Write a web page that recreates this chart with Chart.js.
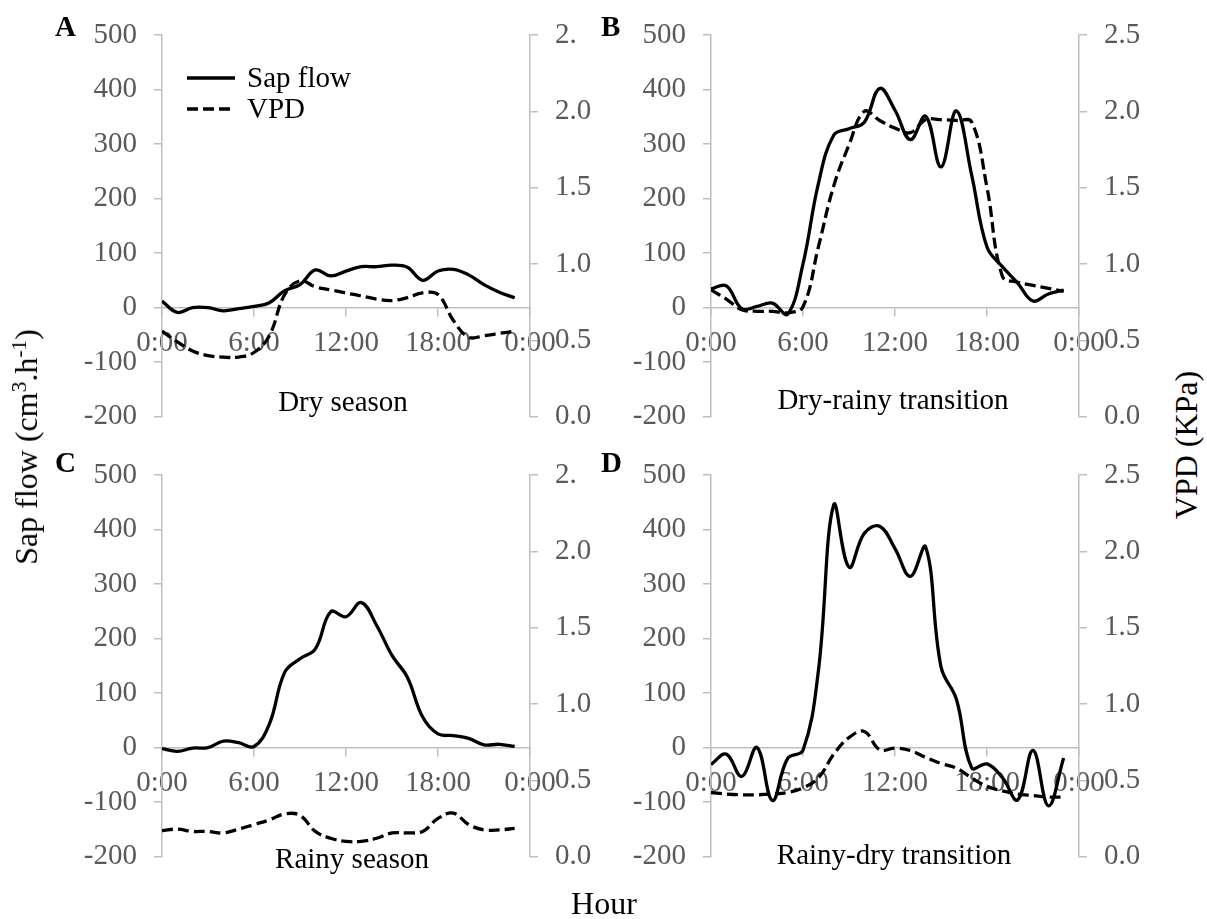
<!DOCTYPE html>
<html><head><meta charset="utf-8">
<script src="https://cdn.jsdelivr.net/npm/chart.js@4.4.1/dist/chart.umd.min.js"></script>
<style>
html,body{margin:0;padding:0;background:#fff;}
body{width:1207px;height:919px;position:relative;overflow:hidden;font-family:"Liberation Serif","Times New Roman",serif;}
canvas{position:absolute;}
.t{position:absolute;white-space:nowrap;color:#000;line-height:1;transform:translate(-50%,-50%);}
.lt{position:absolute;white-space:nowrap;color:#000;line-height:1;font-weight:bold;font-size:29px;}
.sup{font-size:0.67em;vertical-align:0.5em;line-height:0;}
</style></head><body>
<canvas id="cA" width="560" height="451" style="left:40px;top:0px"></canvas>
<canvas id="cB" width="560" height="451" style="left:600px;top:0px"></canvas>
<canvas id="cC" width="560" height="451" style="left:40px;top:440px"></canvas>
<canvas id="cD" width="560" height="451" style="left:600px;top:440px"></canvas>

<div class="lt" style="left:55px;top:12px">A</div>
<div class="lt" style="left:601px;top:12px">B</div>
<div class="lt" style="left:55px;top:448px">C</div>
<div class="lt" style="left:601px;top:448px">D</div>

<div class="t" style="left:343px;top:401px;font-size:29px">Dry season</div>
<div class="t" style="left:893px;top:399px;font-size:29px">Dry-rainy transition</div>
<div class="t" style="left:352px;top:858px;font-size:29px">Rainy season</div>
<div class="t" style="left:894px;top:854px;font-size:29px">Rainy-dry transition</div>

<div class="t" style="left:26px;top:447px;font-size:32px;transform:translate(-50%,-50%) rotate(-90deg)">Sap flow (cm<span class="sup">3</span>.h<span class="sup">-1</span>)</div>
<div class="t" style="left:1186px;top:445px;font-size:32px;transform:translate(-50%,-50%) rotate(-90deg)">VPD (KPa)</div>
<div class="t" style="left:604px;top:903px;font-size:32px">Hour</div>

<script>
// ---- data (hourly, 0:00 .. 23:00) ----
const hours = [0,1,2,3,4,5,6,7,8,9,10,11,12,13,14,15,16,17,18,19,20,21,22,23];

const sapDry      = [12, -9, 0, 0, -6, -2, 2, 9, 31, 42, 69, 58, 67, 75, 75, 78, 74, 50, 67, 70, 60, 42, 28, 18];
const vpdDry      = [0.56, 0.49, 0.43, 0.40, 0.39, 0.39, 0.42, 0.53, 0.80, 0.89, 0.85, 0.83, 0.81, 0.79, 0.77, 0.76, 0.78, 0.81, 0.80, 0.63, 0.52, 0.53, 0.545, 0.56];

const sapDryRainy = [34, 40, -2, 2, 8, -12, 80, 227, 316, 328, 340, 402, 362, 308, 351, 258, 361, 243, 111, 75, 45, 12, 25, 32];
const vpdDryRainy = [0.83, 0.77, 0.70, 0.69, 0.69, 0.68, 0.72, 1.11, 1.51, 1.78, 2.00, 1.94, 1.89, 1.86, 1.945, 1.945, 1.94, 1.93, 1.50, 0.92, 0.88, 0.86, 0.84, 0.82];

const sapRainy    = [-2, -7, -1, 0, 12, 9, 2, 43, 138, 163, 181, 249, 240, 266, 224, 169, 129, 56, 25, 22, 17, 5, 6, 2];
const vpdRainy    = [0.17, 0.18, 0.165, 0.165, 0.155, 0.18, 0.21, 0.24, 0.28, 0.27, 0.165, 0.12, 0.10, 0.10, 0.12, 0.155, 0.155, 0.165, 0.25, 0.285, 0.21, 0.175, 0.175, 0.185];

const sapRainyDry = [-31, -12, -53, 0, -97, -20, -5, 140, 445, 331, 393, 406, 365, 314, 368, 148, 89, -37, -30, -55, -96, -5, -107, -19];
const vpdRainyDry = [0.42, 0.41, 0.405, 0.405, 0.41, 0.42, 0.45, 0.515, 0.67, 0.78, 0.82, 0.70, 0.71, 0.695, 0.65, 0.61, 0.58, 0.515, 0.46, 0.43, 0.41, 0.40, 0.39, 0.39];

const seriesNames = ['Sap flow', 'VPD'];
const xTickLabels = ['0:00', '6:00', '12:00', '18:00', '0:00'];
const rightTickLabelsCut  = ['0.0', '0.5', '1.0', '1.5', '2.0', '2.'];
const rightTickLabelsFull = ['0.0', '0.5', '1.0', '1.5', '2.0', '2.5'];

// ---- styling ----
const AXIS_GRAY = '#bfbfbf';
const TICK_TEXT = '#595959';
const FONT = 'Liberation Serif';

const panelLegend = {
  id: 'panelLegend',
  afterDraw(chart, args, opts) {
    if (!opts || !opts.show) return;
    const ctx = chart.ctx;
    chart.data.datasets.forEach((ds, i) => {
      const y = opts.y + i * opts.gap;
      ctx.save();
      ctx.strokeStyle = ds.borderColor;
      ctx.lineWidth = ds.borderWidth;
      ctx.setLineDash(ds.borderDash || []);
      ctx.beginPath();
      ctx.moveTo(opts.x, y);
      ctx.lineTo(opts.x + opts.len, y);
      ctx.stroke();
      ctx.setLineDash([]);
      ctx.fillStyle = '#000';
      ctx.font = opts.size + 'px "' + FONT + '"';
      ctx.textBaseline = 'middle';
      ctx.textAlign = 'left';
      ctx.fillText(ds.label, opts.x + opts.len + 12, y + 1);
      ctx.restore();
    });
  }
};

function makePanel(id, sap, vpd, rightLabels, leftW, rightW, legend) {
  const ctx = document.getElementById(id).getContext('2d');
  return new Chart(ctx, {
    type: 'line',
    data: {
      datasets: [
        { label: seriesNames[0], data: hours.map((h, i) => ({x: h, y: sap[i]})), yAxisID: 'y',
          borderColor: '#000', borderWidth: 3.3, pointRadius: 0, tension: 0.4, fill: false },
        { label: seriesNames[1], data: hours.map((h, i) => ({x: h, y: vpd[i]})), yAxisID: 'y1',
          borderColor: '#000', borderWidth: 3.3, borderDash: [11, 5], pointRadius: 0, tension: 0.4, fill: false }
      ]
    },
    options: {
      responsive: false,
      animation: false,
      devicePixelRatio: 1,
      layout: { padding: { left: 0, right: 0, top: 35, bottom: 14 } },
      plugins: { legend: { display: false }, tooltip: { enabled: false }, panelLegend: legend },
      scales: {
        x: {
          type: 'linear', min: 0, max: 24, position: { y: 0 },
          ticks: { stepSize: 6, autoSkip: false, maxRotation: 0, padding: 10, color: TICK_TEXT,
                   font: { family: FONT, size: 29 }, callback: (v, i) => xTickLabels[i] },
          grid: { drawOnChartArea: false, drawTicks: true, tickLength: 8, color: AXIS_GRAY, lineWidth: 1.5 },
          border: { color: AXIS_GRAY, width: 1.5 }
        },
        y: {
          type: 'linear', position: 'left', min: -200, max: 500,
          ticks: { stepSize: 100, padding: 17, color: TICK_TEXT, font: { family: FONT, size: 29 } },
          grid: { drawOnChartArea: false, drawTicks: true, tickLength: 8, color: AXIS_GRAY, lineWidth: 1.5 },
          border: { color: AXIS_GRAY, width: 1.5 },
          afterFit: s => { s.width = leftW; }
        },
        y1: {
          type: 'linear', position: 'right', min: 0, max: 2.5,
          ticks: { stepSize: 0.5, padding: 17, color: TICK_TEXT, font: { family: FONT, size: 29 },
                   callback: (v, i) => rightLabels[i] },
          grid: { drawOnChartArea: false, drawTicks: true, tickLength: 8, color: AXIS_GRAY, lineWidth: 1.5 },
          border: { color: AXIS_GRAY, width: 1.5 },
          afterFit: s => { s.width = rightW; }
        }
      }
    },
    plugins: [panelLegend]
  });
}

makePanel('cA', sapDry, vpdDry, rightTickLabelsCut, 122, 70, { show: true, x: 147, y: 78, gap: 31, len: 48, size: 29 });
makePanel('cB', sapDryRainy, vpdDryRainy, rightTickLabelsFull, 111, 81, { show: false });
makePanel('cC', sapRainy, vpdRainy, rightTickLabelsCut, 122, 70, { show: false });
makePanel('cD', sapRainyDry, vpdRainyDry, rightTickLabelsFull, 111, 81, { show: false });
</script>
</body></html>
